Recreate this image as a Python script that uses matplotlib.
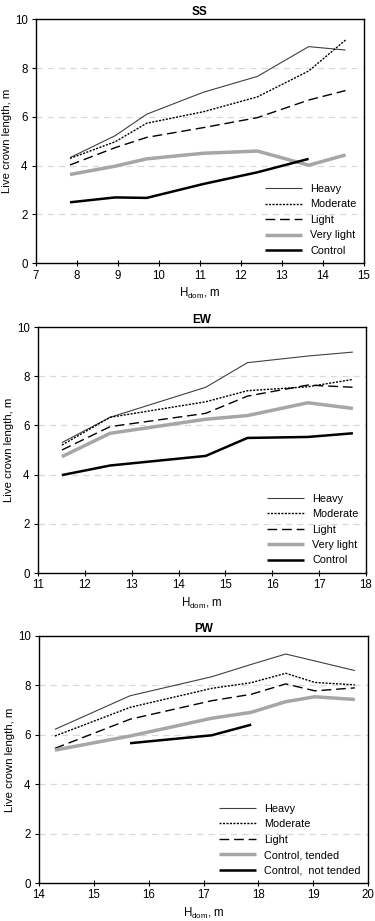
import matplotlib
matplotlib.use("Agg")
import matplotlib.pyplot as plt

plt.rcParams['font.family'] = ['Liberation Sans', 'DejaVu Sans']
plt.rcParams['mathtext.fontset'] = 'custom'
plt.rcParams['mathtext.rm'] = 'Liberation Sans'
plt.rcParams['mathtext.it'] = 'Liberation Sans:italic'

# ---- SS ----
ss_x = [7.83, 8.93, 9.70, 11.08, 12.40, 13.65, 14.55]
ss_heavy = [4.33, 5.23, 6.11, 7.01, 7.66, 8.88, 8.74]
ss_moderate = [4.30, 4.98, 5.74, 6.21, 6.82, 7.88, 9.15]
ss_light = [4.03, 4.74, 5.16, 5.56, 5.97, 6.69, 7.08]
ss_verylight = [3.64, 3.98, 4.28, 4.51, 4.60, 4.02, 4.44]
ss_control_x = [7.83, 8.93, 9.70, 11.08, 12.40, 13.65]
ss_control = [2.50, 2.70, 2.68, 3.25, 3.73, 4.28]

# ---- EW ----
ew_x = [11.51, 12.54, 14.58, 15.47, 16.76, 17.72]
ew_heavy = [5.30, 6.33, 7.55, 8.55, 8.82, 8.98]
ew_moderate = [5.20, 6.33, 6.96, 7.41, 7.57, 7.87]
ew_light = [5.00, 5.95, 6.49, 7.19, 7.64, 7.55]
ew_verylight = [4.73, 5.68, 6.25, 6.40, 6.92, 6.69]
ew_control = [3.98, 4.37, 4.76, 5.49, 5.53, 5.68]

# ---- PW ----
pw_x = [14.29, 15.66, 17.15, 17.87, 18.50, 19.03, 19.76]
pw_heavy = [6.22, 7.58, 8.35, 8.85, 9.27, 8.99, 8.60]
pw_moderate = [5.95, 7.11, 7.88, 8.11, 8.49, 8.12, 8.02]
pw_light = [5.45, 6.63, 7.38, 7.64, 8.06, 7.78, 7.90]
pw_tended = [5.38, 5.95, 6.67, 6.91, 7.34, 7.54, 7.43]
pw_nottended_x = [15.66, 17.15, 17.87]
pw_nottended = [5.66, 5.98, 6.41]

labels_std = ['Heavy', 'Moderate', 'Light', 'Very light', 'Control']
labels_pw = ['Heavy', 'Moderate', 'Light', 'Control, tended', 'Control,  not tended']

styles = [
    dict(color='#404040', lw=0.8, ls='-'),
    dict(color='black', lw=1.0, ls=(0, (1.5, 1))),
    dict(color='black', lw=1.0, ls=(0, (7, 3.5))),
    dict(color='#a6a6a6', lw=2.5, ls='-'),
    dict(color='black', lw=1.8, ls='-'),
]

fig = plt.figure(figsize=(3.75, 9.21), dpi=100)
W, H = 375, 921

def make_ax(l, r, t, b):
    return fig.add_axes([l / W, 1 - b / H, (r - l) / W, (b - t) / H])

panels = [
    dict(box=(36, 364, 19.3, 263.3), title='SS', xlim=(7, 15), xt=range(7, 16),
         series=[(ss_x, ss_heavy), (ss_x, ss_moderate), (ss_x, ss_light),
                 (ss_x, ss_verylight), (ss_control_x, ss_control)], labels=labels_std),
    dict(box=(38, 366, 327, 573), title='EW', xlim=(11, 18), xt=range(11, 19),
         series=[(ew_x, ew_heavy), (ew_x, ew_moderate), (ew_x, ew_light),
                 (ew_x, ew_verylight), (ew_x, ew_control)], labels=labels_std),
    dict(box=(39, 368, 636, 883), title='PW', xlim=(14, 20), xt=range(14, 21),
         series=[(pw_x, pw_heavy), (pw_x, pw_moderate), (pw_x, pw_light),
                 (pw_x, pw_tended), (pw_nottended_x, pw_nottended)], labels=labels_pw),
]

for p in panels:
    ax = make_ax(*p['box'])
    for yv in [2, 4, 6, 8]:
        ax.axhline(yv, color='#d9d9d9', lw=0.9, ls=(0, (5, 4)), zorder=0)
    for (xs, ys), st, lab in zip(p['series'], styles, p['labels']):
        ax.plot(xs, ys, label=lab, solid_capstyle='butt', dash_capstyle='butt', **st)
    ax.set_xlim(*p['xlim'])
    ax.set_ylim(0, 10)
    ax.set_xticks(list(p['xt']))
    ax.set_yticks([0, 2, 4, 6, 8, 10])
    ax.tick_params(axis='y', direction='out', length=3, width=0.8, labelsize=8.3, pad=3, colors='black')
    ax.tick_params(axis='x', direction='inout', length=5, width=0.8, labelsize=8.3, pad=2, colors='black')
    for s in ax.spines.values():
        s.set_linewidth(1.0)
        s.set_color('black')
    ax.set_title(p['title'], fontsize=8.5, fontweight='bold', pad=3)
    ax.set_ylabel('Live crown length, m', fontsize=8.2, labelpad=2)
    ax.set_xlabel(r'H$_{\mathrm{dom}}$, m', fontsize=8.3, labelpad=3)
    ax.legend(loc='lower right', frameon=False, fontsize=7.8, handlelength=3.4,
              handletextpad=0.75, labelspacing=0.5, borderaxespad=0.3)

fig.savefig('out.png', dpi=100)
